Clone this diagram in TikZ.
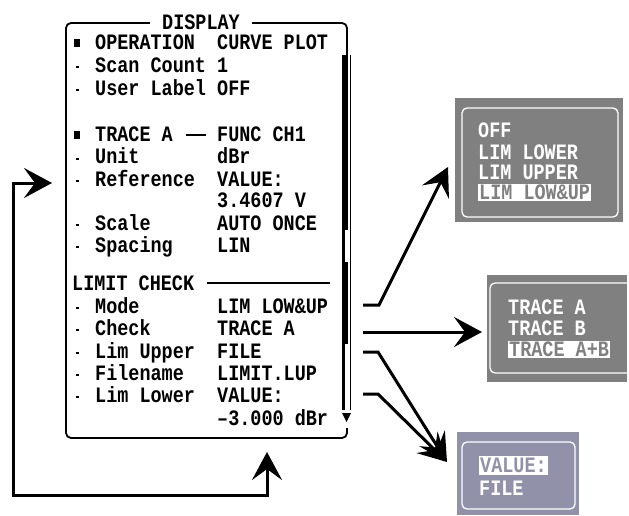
\documentclass[tikz,border=0pt]{standalone}
\usepackage{fontspec}
\newfontfamily\lcd[FakeStretch=0.84]{Liberation Mono}
\usetikzlibrary{arrows.meta}
\definecolor{popgray}{HTML}{808080}
\definecolor{poplav}{HTML}{9191A9}
\begin{document}
\begin{tikzpicture}[x=1pt,y=-1pt,
  txt/.style={anchor=west, inner sep=0pt, text height=14pt, text depth=0pt,
    font=\lcd\bfseries\fontsize{22}{22}\selectfont},
  wtxt/.style={txt, text=white},
  hl/.style={txt, fill=white, inner xsep=1pt, inner ysep=1.5pt},
  frame/.style={line width=1.8pt, line join=round},
  inframe/.style={draw=white, line width=1.3pt, rounded corners=5pt},
  tip/.style={-{Stealth[length=28pt,width=30pt,inset=11pt]}},
  conn/.style={line width=3pt, line join=miter, tip}
]
\useasboundingbox (0,0) rectangle (629,516);

% ---------- main display frame ----------
\draw[frame, rounded corners=5pt] (347,55) -- (347,23) -- (66,23) -- (66,438) -- (347,438) -- (347,428);
\node[txt, anchor=center, fill=white, inner xsep=12pt] (title) at (201,23) {DISPLAY};

% scrollbar
\fill (342,55) rectangle (345,410);
\fill (349.5,55) rectangle (351,410);
\fill (342,55) rectangle (348,230);
\fill (342,262) rectangle (348,344);
\fill (342,413) -- (351,413) -- (346.5,422) -- cycle;

% bullets
\fill (74,39) rectangle (80,47);
\fill (74,131) rectangle (80,139);
\foreach \yy in {66,89,157,179,223,245,306,328,351,373,395}
  \fill (76,\yy+0.5) rectangle (79,\yy+2.5);

% labels
\node[txt] (l1) at (95,43) {OPERATION};
\node[txt] (l2) at (95,66) {Scan Count};
\node[txt] (l3) at (95,89) {User Label};
\node[txt] (l4) at (95,135) {TRACE A};
\node[txt] (l5) at (95,157) {Unit};
\node[txt] (l6) at (95,179) {Reference};
\node[txt] (l7) at (95,223) {Scale};
\node[txt] (l8) at (95,245) {Spacing};
\node[txt] (lc) at (72,283) {LIMIT CHECK};
\node[txt] (l9) at (95,306) {Mode};
\node[txt] (l10) at (95,328) {Check};
\node[txt] (l11) at (95,351) {Lim Upper};
\node[txt] (l12) at (95,373) {Filename};
\node[txt] (l13) at (95,395) {Lim Lower};

% values
\node[txt] (v1) at (217,43) {CURVE PLOT};
\node[txt] (v2) at (217,66) {1};
\node[txt] (v3) at (217,89) {OFF};
\node[txt] (v4) at (217,135) {FUNC CH1};
\node[txt] (v5) at (217,157) {dBr};
\node[txt] (v6) at (217,179) {VALUE:};
\node[txt] (v6b) at (217,200) {3.4607 V};
\node[txt] (v7) at (217,223) {AUTO ONCE};
\node[txt] (v8) at (217,245) {LIN};
\node[txt] (v9) at (217,306) {LIM LOW\&UP};
\node[txt] (v10) at (217,328) {TRACE A};
\node[txt] (v11) at (217,351) {FILE};
\node[txt] (v12) at (217,373) {LIMIT.LUP};
\node[txt] (v13) at (217,395) {VALUE:};
\node[txt] (v13b) at (217,418) {–3.000 dBr};

\draw[line width=1.5pt] (186,135) -- (206,135);
\draw[line width=1.5pt] (207,283) -- (330,283);

% ---------- popup 1 ----------
\fill[popgray] (455,98) rectangle (623,222);
\draw[inframe] (462,108) rectangle (618,217);
\node[wtxt] (p1a) at (478,131) {OFF};
\node[wtxt] (p1b) at (478,152) {LIM LOWER};
\node[wtxt] (p1c) at (478,172) {LIM UPPER};
\node[hl, text=popgray] (p1d) at (478,192) {LIM LOW\&UP};

% ---------- popup 2 ----------
\fill[popgray] (487,275) rectangle (627,382);
\draw[inframe] (627,283) -- (490,283) -- (490,373) -- (627,373);
\node[wtxt] (p2a) at (508,307) {TRACE A};
\node[wtxt] (p2b) at (508,328) {TRACE B};
\node[hl, text=popgray] (p2c) at (508,349) {TRACE A+B};

% ---------- popup 3 ----------
\fill[poplav] (457,432) rectangle (579,515);
\draw[inframe] (462,442) rectangle (575,509);
\node[hl, text=poplav, inner ysep=2.5pt] (p3a) at (479,465) {VALUE:};
\node[wtxt] (p3b) at (479,488) {FILE};

% ---------- connectors ----------
\coordinate (loopL) at (52,183);
\coordinate (loopB) at (267,452);
\coordinate (loopC1) at (13,495);
\draw[line width=3pt, line join=miter, {Stealth[length=28pt,width=30pt,inset=11pt]}-{Stealth[length=28pt,width=30pt,inset=11pt]}]
  (loopL) -| (loopC1) -| (loopB);

\coordinate (s1) at (363,305);
\coordinate (k1) at (379,305);
\coordinate (t1) at (448,167);
\draw[conn] (s1) -- (k1) -- (t1);

\coordinate (s2) at (363,332);
\coordinate (t2) at (482,332);
\draw[conn] (s2) -- (t2);

\coordinate (s3) at (363,352);
\coordinate (k3) at (378,352);
\coordinate (s4) at (363,394);
\coordinate (k4) at (378,394);
\coordinate (t3) at (447,462);
\draw[conn] (s3) -- (k3) -- (t3);
\draw[conn] (s4) -- (k4) -- (t3);
\end{tikzpicture}
\end{document}
